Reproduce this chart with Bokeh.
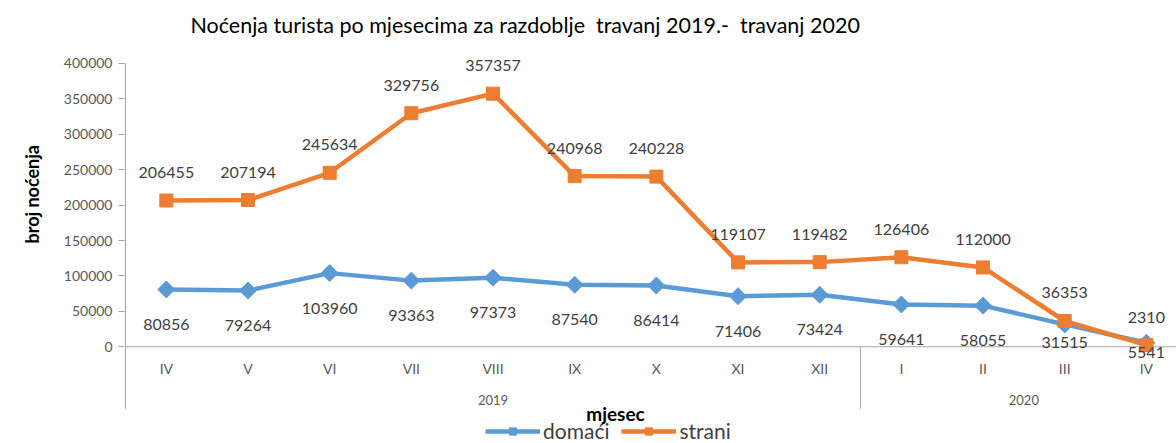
import math
from bokeh.plotting import figure
from bokeh.models import (Range1d, FixedTicker, Label, Legend, LegendItem, NumeralTickFormatter, Title)
from bokeh.core.properties import value
from bokeh.embed import file_html
from bokeh.resources import INLINE

# ---- data ----
months = ["IV", "V", "VI", "VII", "VIII", "IX", "X", "XI", "XII", "I", "II", "III", "IV"]
years = ["2019", "2020"]
year_first_idx = [0, 9]
year_last_idx = [8, 12]
domaci = [80856, 79264, 103960, 93363, 97373, 87540, 86414, 71406, 73424, 59641, 58055, 31515, 5541]
strani = [206455, 207194, 245634, 329756, 357357, 240968, 240228, 119107, 119482, 126406, 112000, 36353, 2310]
y_ticks = [0, 50000, 100000, 150000, 200000, 250000, 300000, 350000, 400000]

# ---- layout constants (image pixels) ----
W, H = 1176, 443
ZERO_Y = 346.0          # image y of value 0
TOP_Y = 62.0            # image y of value 400000
STEP = 81.67            # px per category
AX_X = 125.0            # image x of category boundary -0.5
PX_PER_UNIT = (ZERO_Y - TOP_Y) / 400000.0

def ydat(img_y):
    return (ZERO_Y - img_y) / PX_PER_UNIT

def xdat(img_x):
    return (img_x - AX_X) / STEP - 0.5

frame_left = 124
frame_top = 45
x0 = xdat(frame_left)
x1 = xdat(W)
y1 = ydat(frame_top)
y0 = ydat(H)

BLUE = "#5B9BD5"
ORANGE = "#ED7D31"
AXIS = "#a6a6a6"
TXT = "#404040"
FONT = "Lato"

p = figure(width=W, height=H, output_backend="svg", toolbar_location=None,
           x_range=Range1d(x0, x1), y_range=Range1d(y0, y1),
           x_axis_location=None, y_axis_location="left",
           min_border_left=frame_left, min_border_right=0,
           min_border_top=frame_top, min_border_bottom=0)
p.outline_line_color = None
p.xgrid.visible = False
p.ygrid.visible = False
p.background_fill_color = "white"

ax = p.yaxis[0]
ax.ticker = FixedTicker(ticks=y_ticks)
ax.bounds = (0, 400000)
ax.formatter = NumeralTickFormatter(format="0")
ax.axis_line_color = None
ax.major_tick_line_color = AXIS
ax.major_tick_out = 6
ax.major_tick_in = 0
ax.minor_tick_line_color = None
ax.major_label_text_font = FONT
ax.major_label_text_font_size = "14px"
ax.major_label_text_color = "#595959"
ax.major_label_standoff = 6

# rotated y-axis title as a side title
p.add_layout(Title(text="broj noćenja", align="left", offset=H - 243, standoff=35,
                   text_font=FONT, text_font_size="18px", text_font_style="bold",
                   text_color="black"), "left")

# chart title
p.title = Title(text="Noćenja turista po mjesecima za razdoblje\u00a0 travanj 2019.-\u00a0 travanj 2020",
                align="left", offset=66, text_font=FONT, text_font_size="21.5px",
                text_font_style="normal", text_color="black", standoff=18)

# axis lines
xb = -0.5
bottom = ydat(408)
p.segment(x0=[xb], y0=[bottom], x1=[xb], y1=[400000], line_color=AXIS, line_width=1)
p.segment(x0=[xb], y0=[0], x1=[x1], y1=[0], line_color=AXIS, line_width=1)
p.segment(x0=[year_first_idx[1] - 0.5], y0=[0], x1=[year_first_idx[1] - 0.5], y1=[bottom],
          line_color=AXIS, line_width=1)

idx = list(range(len(months)))

# month and year labels
p.text(x=idx, y=[ydat(368)] * len(idx), text=months, text_align="center", text_baseline="middle",
       text_font=value(FONT), text_font_size="14px", text_color="#595959")
year_x = [(a - 0.5 + b + 0.5) / 2 for a, b in zip(year_first_idx, year_last_idx)]
p.text(x=year_x, y=[ydat(399)] * len(years), text=years, text_align="center", text_baseline="middle",
       text_font=value(FONT), text_font_size="13px", text_color="#595959")

# series
l1 = p.line(idx, domaci, line_color=BLUE, line_width=4.5)
s1 = p.scatter(idx, domaci, marker="square", angle=math.pi / 4, size=12, fill_color=BLUE, line_color=BLUE)
l2 = p.line(idx, strani, line_color=ORANGE, line_width=4.5)
s2 = p.scatter(idx, strani, marker="square", size=13, fill_color=ORANGE, line_color=ORANGE)

# data labels
blue_off = [35] * 11 + [18, 10]
p.text(x=idx, y=domaci, text=[str(v) for v in domaci], y_offset=blue_off,
       text_align="center", text_baseline="middle", text_font=value(FONT),
       text_font_size="16px", text_color=TXT)
p.text(x=idx, y=strani, text=[str(v) for v in strani], y_offset=-28,
       text_align="center", text_baseline="middle", text_font=value(FONT),
       text_font_size="16px", text_color=TXT)

# x-axis title
p.add_layout(Label(x=xdat(615), y=ydat(413), text="mjesec",
                   text_align="center", text_baseline="middle", text_font=FONT,
                   text_font_size="19px", text_font_style="bold", text_color="black"))

legend = Legend(items=[LegendItem(label="domaći", renderers=[l1, s1]),
                       LegendItem(label="strani", renderers=[l2, s2])],
                orientation="horizontal", location=(361, 0),
                border_line_color=None, background_fill_alpha=0,
                padding=0, margin=0, spacing=12, glyph_width=55, glyph_height=18,
                label_standoff=3, label_text_font=FONT, label_text_font_size="21px",
                label_text_color=TXT)
p.add_layout(legend)

open("out.html", "w").write(file_html(p, INLINE))
